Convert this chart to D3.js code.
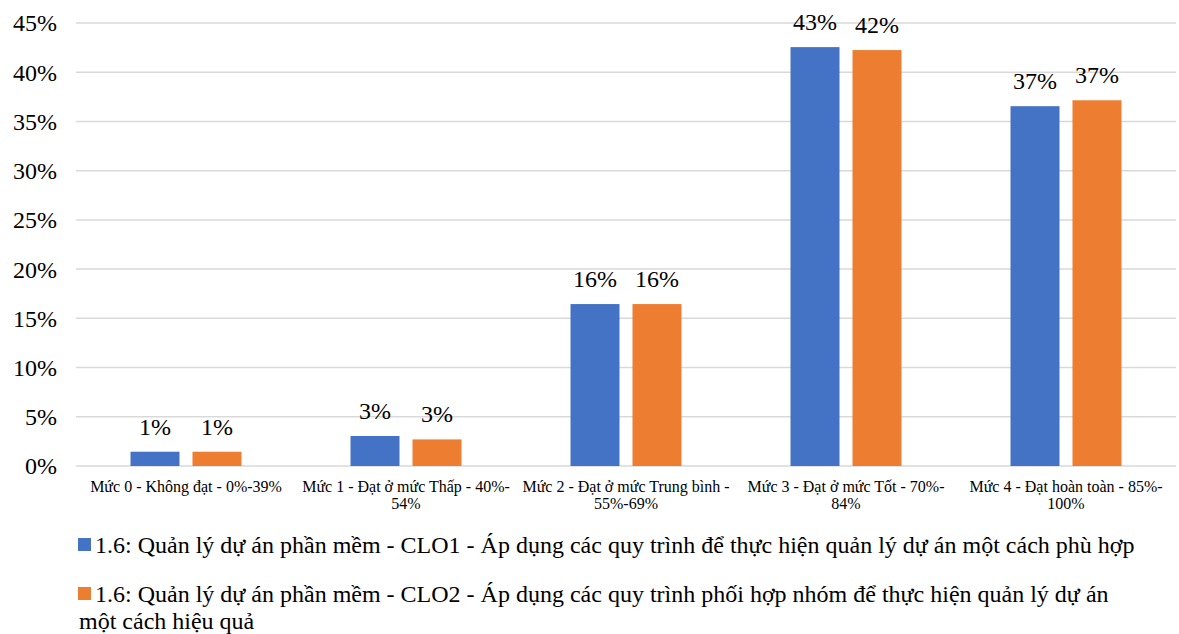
<!DOCTYPE html>
<meta charset="utf-8">
<body style="margin:0;background:#fff">
<style>
text { font-family: "Liberation Serif", "Times New Roman", serif; fill: #000; }
.grid line { stroke: #d9d9d9; stroke-width: 1.5px; }
</style>
<script src="https://cdn.jsdelivr.net/npm/d3@7"></script>
<script>

var categories = [
  "Mức 0 - Không đạt - 0%-39%",
  "Mức 1 - Đạt ở mức Thấp - 40%-54%",
  "Mức 2 - Đạt ở mức Trung bình - 55%-69%",
  "Mức 3 - Đạt ở mức Tốt - 70%-84%",
  "Mức 4 - Đạt hoàn toàn - 85%-100%"
];
var catLines = [
  ["Mức 0 - Không đạt - 0%-39%"],
  ["Mức 1 - Đạt ở mức Thấp - 40%-", "54%"],
  ["Mức 2 - Đạt ở mức Trung bình -", "55%-69%"],
  ["Mức 3 - Đạt ở mức Tốt - 70%-", "84%"],
  ["Mức 4 - Đạt hoàn toàn - 85%-", "100%"]
];
var seriesNames = [
  "1.6: Quản lý dự án phần mềm - CLO1 - Áp dụng các quy trình để thực hiện quản lý dự án một cách phù hợp",
  "1.6: Quản lý dự án phần mềm - CLO2 - Áp dụng các quy trình phối hợp nhóm để thực hiện quản lý dự án một cách hiệu quả"
];
var clo1 = [1.45, 3.05, 16.45, 42.55, 36.55];
var clo2 = [1.45, 2.7, 16.45, 42.25, 37.15];
var colors = ["#4472c4", "#ed7d31"];
var yTicks = [0, 5, 10, 15, 20, 25, 30, 35, 40, 45];

var W = 1179, H = 634;
var m = { left: 76, right: 1176, top: 23, bottom: 466 };

var svg = d3.select("body").append("svg")
    .attr("width", W)
    .attr("height", H);

var x = d3.scaleBand().domain(d3.range(categories.length)).range([m.left, m.right]);
var y = d3.scaleLinear().domain([0, 45]).range([m.bottom, m.top]);

// gridlines
svg.append("g").attr("class", "grid")
  .selectAll("line").data(yTicks).enter().append("line")
    .attr("x1", m.left).attr("x2", m.right)
    .attr("y1", function(d) { return y(d); })
    .attr("y2", function(d) { return y(d); });

// y tick labels
svg.append("g").selectAll("text").data(yTicks).enter().append("text")
    .attr("x", 57)
    .attr("y", function(d) { return y(d); })
    .attr("dy", "0.35em")
    .attr("text-anchor", "end")
    .style("font-size", "24px")
    .text(function(d) { return d + "%"; });

var bw = 49, gap = 13;
var series = [clo1, clo2];

series.forEach(function(vals, s) {
  var g = svg.append("g");
  var bx = function(i) { return x(i) + x.bandwidth() / 2 - (bw + gap / 2) + s * (bw + gap); };
  g.selectAll("rect").data(vals).enter().append("rect")
    .attr("x", function(d, i) { return bx(i); })
    .attr("y", function(d) { return y(d); })
    .attr("width", bw)
    .attr("height", function(d) { return m.bottom - y(d); })
    .attr("fill", colors[s]);
  g.selectAll("text").data(vals).enter().append("text")
    .attr("x", function(d, i) { return bx(i) + bw / 2; })
    .attr("y", function(d) { return y(d) - 17; })
    .attr("text-anchor", "middle")
    .style("font-size", "24px")
    .text(function(d) { return Math.round(d) + "%"; });
});

// x labels
var xl = svg.append("g").selectAll("text").data(catLines).enter().append("text")
    .attr("x", function(d, i) { return x(i) + x.bandwidth() / 2; })
    .attr("y", 492)
    .attr("text-anchor", "middle")
    .style("font-size", "16px");
xl.selectAll("tspan").data(function(d) { return d; }).enter().append("tspan")
    .attr("x", function() { return d3.select(this.parentNode).attr("x"); })
    .attr("dy", function(d, i) { return i ? 17 : 0; })
    .text(function(d) { return d; });

// legend
var legendLines = [
  [seriesNames[0]],
  ["1.6: Quản lý dự án phần mềm - CLO2 - Áp dụng các quy trình phối hợp nhóm để thực hiện quản lý dự án", "một cách hiệu quả"]
];
var legendY = [553, 602];
legendLines.forEach(function(lines, s) {
  svg.append("rect")
    .attr("x", 78).attr("y", legendY[s] - 15)
    .attr("width", 13).attr("height", 13)
    .attr("fill", colors[s]);
  var t = svg.append("text")
    .attr("y", legendY[s])
    .style("font-size", "24px");
  t.selectAll("tspan").data(lines).enter().append("tspan")
    .attr("x", function(d, i) { return i ? 79 : 95; })
    .attr("dy", function(d, i) { return i ? 27 : 0; })
    .text(function(d) { return d; });
});

</script>
